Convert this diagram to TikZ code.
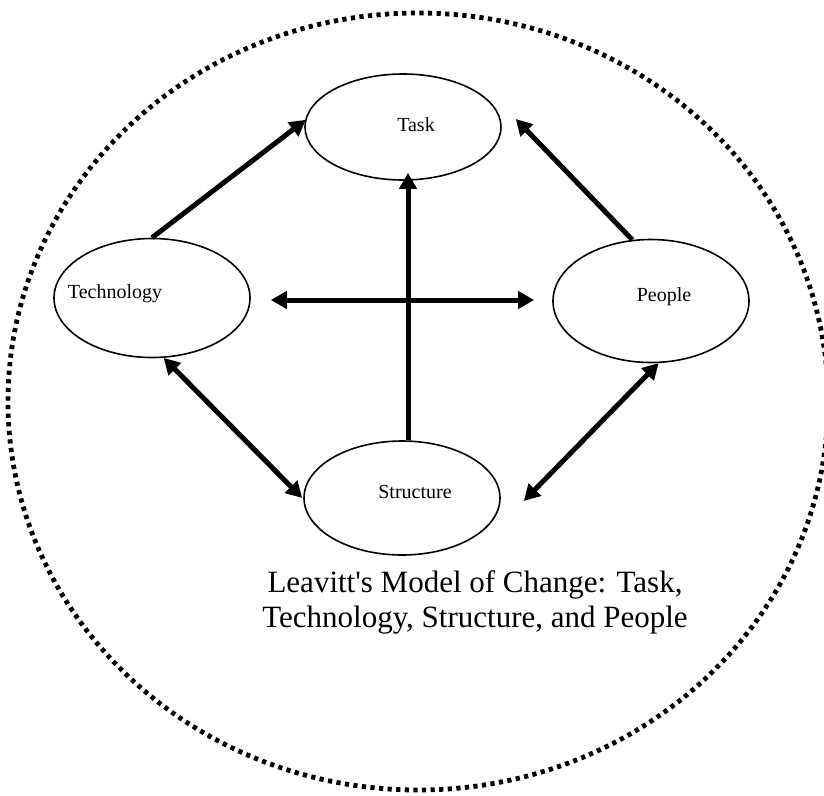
\documentclass[tikz,border=0pt]{standalone}
\usepackage{fontspec}
\setmainfont{Liberation Serif}
\usetikzlibrary{arrows.meta,shapes.geometric}
\tikzset{
  comp/.style={draw, ellipse, line width=1.6pt, minimum width=196pt, inner sep=0pt},
  every label/.style={font=\fontsize{20}{24}\selectfont, inner sep=0pt},
  thick arrow/.style={line width=5pt, -{Triangle[length=16pt,width=17pt]}},
  dbl arrow/.style={line width=5pt, {Triangle[length=16pt,width=17pt]}-{Triangle[length=16pt,width=17pt]}},
}
\begin{document}
\begin{tikzpicture}[x=1pt,y=-1pt]
\useasboundingbox (0,0) rectangle (824,795);
% outer dotted ellipse
\draw[line width=4.8pt, dash pattern=on 4.2pt off 4.4pt] (418,401.5) ellipse [x radius=410, y radius=388.5];
% components
\node[comp, minimum height=106pt, label={[xshift=13pt,yshift=2pt]center:Task}] (task) at (403,127) {};
\node[comp, minimum height=119pt, label={[xshift=-37pt,yshift=4pt]center:Technology}] (tech) at (152,298) {};
\node[comp, minimum height=123pt, label={[xshift=13pt,yshift=4pt]center:People}] (people) at (651,301) {};
\node[comp, minimum height=114pt, label={[xshift=13pt,yshift=6pt]center:Structure}] (struct) at (402,498) {};
% connectors
\draw[thick arrow, shorten >=-2pt] (tech.north) -- ([yshift=6pt]task.west);
\draw[thick arrow] (people.107) -- ([xshift=14pt,yshift=8pt]task.east);
\draw[thick arrow] ([xshift=6pt]struct.north) -- ([xshift=5pt,yshift=8pt]task.south);
\draw[dbl arrow] ([xshift=20pt,yshift=-2pt]tech.east) -- ([xshift=-18pt,yshift=1pt]people.west);
\draw[dbl arrow] (tech.-79) -- ([xshift=-1pt]struct.west);
\draw[dbl arrow] (people.-83) -- ([xshift=23pt,yshift=-3pt]struct.east);
% caption
\node[anchor=north, align=center, inner sep=0pt, font=\fontsize{31}{35}\selectfont] (cap) at (475,570)
  {Leavitt\textquotesingle s Model of Change: Task,\\Technology, Structure, and People};
\end{tikzpicture}
\end{document}
